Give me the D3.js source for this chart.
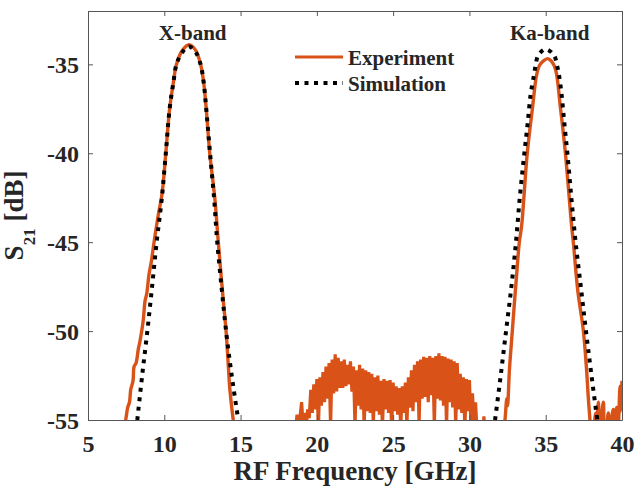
<!DOCTYPE html>
<html>
<head>
<meta charset="utf-8">
<script src="https://cdn.jsdelivr.net/npm/d3@7"></script>
<style>
  body { margin: 0; background: #fff; }
  svg { display: block; }
  text { font-family: "Liberation Serif", "Times New Roman", serif; font-weight: bold; fill: #262626; }
</style>
</head>
<body>
<svg id="chart" width="641" height="490"></svg>
<script>
// ---- Data: S21 transmission [dB] versus RF frequency [GHz] ----
const xTicks = [5, 10, 15, 20, 25, 30, 35, 40];
const yTicks = [-55, -50, -45, -40, -35];
const bandLabels = ["X-band", "Ka-band"];
const bandLabelPos = [[11.6, -33.0], [35.0, -33.0]];
const seriesNames = ["Experiment", "Simulation"];

// Measured response, X-band passband
const expXband = [
  [7.2,-56],[7.47,-55],[7.6,-54.3],[7.72,-54.0],[7.8,-53.3],[7.95,-52.8],[8.02,-52.0],
  [8.15,-51.8],[8.3,-51.0],[8.4,-50.6],[8.52,-50.0],[8.62,-49.4],[8.74,-48.3],[8.85,-47.9],
  [9.0,-46.8],[9.15,-46.1],[9.33,-45],[9.6,-43.5],[9.85,-42.3],[10.1,-40],[10.35,-37.5],
  [10.6,-36],[10.8,-35],[11.2,-34.2],[11.62,-33.9],[12.05,-34.2],[12.38,-35],[12.58,-36],
  [12.75,-37.5],[12.98,-40],[13.32,-42.6],[13.54,-45],[13.87,-48.3],[14.05,-50],
  [14.2,-52],[14.3,-53.3],[14.52,-55],[14.7,-56]
];

// Measured response, out-of-band leakage between the two passbands
const expMid = [
  [18.6,-55.6],[18.7,-54.7],[18.8,-55.4],[18.9,-54.8],[19.0,-54.0],[19.1,-55.3],[19.2,-54.6],
  [19.3,-55.5],[19.4,-54.4],[19.5,-54.9],[19.6,-53.3],[19.7,-54.6],[19.8,-53.0],[19.9,-54.4],
  [20.0,-52.7],[20.1,-55.5],[20.2,-52.6],[20.3,-54.2],[20.4,-52.3],[20.5,-54.0],[20.6,-52.0],
  [20.7,-53.8],[20.8,-51.8],[20.9,-55.4],[21.0,-51.6],[21.1,-53.5],[21.2,-51.3],[21.3,-53.4],
  [21.4,-51.5],[21.5,-53.2],[21.6,-51.7],[21.7,-53.2],[21.8,-51.6],[21.9,-53.1],[22.0,-51.9],
  [22.1,-53.0],[22.2,-51.7],[22.3,-53.4],[22.4,-52.0],[22.5,-55.4],[22.6,-52.2],[22.7,-54.2],
  [22.8,-51.9],[22.9,-54.4],[23.0,-52.1],[23.1,-55.5],[23.2,-52.2],[23.3,-54.5],[23.4,-52.3],
  [23.5,-54.6],[23.6,-52.4],[23.7,-55.3],[23.8,-52.6],[23.9,-54.5],[24.0,-52.5],[24.1,-54.7],
  [24.2,-52.8],[24.3,-55.5],[24.4,-52.7],[24.5,-54.4],[24.6,-52.8],[24.7,-54.6],[24.8,-52.75],
  [24.9,-55.5],[25.0,-52.9],[25.1,-54.5],[25.2,-53.1],[25.3,-54.7],[25.4,-53.2],[25.5,-55.5],
  [25.6,-53.1],[25.7,-54.6],[25.8,-52.9],[25.9,-55.4],[26.0,-52.6],[26.1,-54.3],[26.2,-52.2],
  [26.3,-54.5],[26.4,-51.9],[26.5,-54.0],[26.6,-51.7],[26.7,-55.3],[26.8,-51.6],[26.9,-53.8],
  [27.0,-51.45],[27.1,-53.7],[27.2,-51.5],[27.3,-54.0],[27.4,-51.4],[27.5,-53.6],[27.6,-51.5],
  [27.7,-55.4],[27.8,-51.4],[27.9,-53.8],[28.0,-51.25],[28.1,-53.9],[28.2,-51.4],[28.3,-54.2],
  [28.4,-51.45],[28.5,-55.5],[28.6,-51.55],[28.7,-54.0],[28.8,-51.6],[28.9,-54.3],[29.0,-51.7],
  [29.1,-55.4],[29.2,-51.8],[29.3,-54.4],[29.4,-52.4],[29.5,-54.6],[29.6,-52.6],[29.7,-55.5],
  [29.8,-52.7],[29.9,-54.5],[30.0,-52.75],[30.1,-55.3],[30.2,-53.5],[30.3,-55.2],[30.4,-54.0],
  [30.5,-55.6],[30.9,-55.5],[30.95,-54.8],[31.0,-55.5]
];

// Measured response, Ka-band passband and upper tail
const expKaband = [
  [32.2,-56],[32.33,-55],[32.45,-53.8],[32.5,-54.2],[32.62,-52.2],[32.81,-50],[32.95,-48.4],
  [33.08,-47.0],[33.27,-45],[33.42,-44.1],[33.79,-40],[34.14,-37.4],[34.4,-35.6],[34.6,-35.05],
  [34.85,-34.8],[35.13,-34.68],[35.4,-34.85],[35.65,-35.3],[35.96,-37.4],[36.29,-40],
  [36.7,-44.1],[36.81,-45],[37.1,-47.7],[37.47,-50],[37.68,-52.2],[37.78,-53.6],[37.9,-55],
  [38.0,-56],[38.15,-55.3],[38.3,-54.6],[38.35,-55.5],[38.45,-54.0],[38.55,-55.5],[38.78,-54.0],
  [38.85,-55.5],[39.0,-55.2],[39.1,-54.6],[39.2,-55.5],[39.43,-54.4],[39.5,-55.5],[39.65,-54.3],
  [39.75,-55.3],[39.87,-53.1],[39.93,-54.5],[40.0,-52.8]
];

// Simulated response, both passbands
const simXband = [
  [8.23,-55],[8.55,-52.5],[8.89,-50],[9.2,-47.5],[9.5,-45],[9.83,-42.6],[10.1,-40],
  [10.35,-37.5],[10.6,-36],[10.8,-35],[11.2,-34.3],[11.62,-34.0],[12.05,-34.3],[12.38,-35],
  [12.58,-36],[12.75,-37.5],[13.0,-40],[13.27,-42.6],[13.47,-45],[13.75,-47.5],[14.05,-50],
  [14.42,-52.5],[14.85,-55]
];
const simKaband = [
  [31.68,-55],[32.05,-52.5],[32.4,-50],[32.75,-47.5],[33.05,-45],[33.3,-42.5],[33.6,-40],
  [33.82,-38.3],[34.01,-36.7],[34.23,-35.6],[34.34,-35.05],[34.52,-34.48],[35.0,-34.15],
  [35.54,-34.48],[35.74,-35.05],[35.87,-35.6],[36.04,-36.7],[36.22,-38.3],[36.42,-40],
  [36.68,-42.5],[36.96,-45],[37.3,-47.5],[37.64,-50],[38.0,-52.5],[38.38,-55]
];

// ---- Layout ----
const svg = d3.select("#chart");
const padL = 88, padR = 622, padT = 11, padB = 420;
const expColor = "#D95319";

const x = d3.scaleLinear().domain([5, 40]).range([padL, padR]);
const y = d3.scaleLinear().domain([-55, -32]).range([padB, padT]);

svg.append("defs").append("clipPath").attr("id", "plotArea")
  .append("rect").attr("x", padL).attr("y", padT)
  .attr("width", padR - padL).attr("height", padB - padT);

// ---- Curves ----
const plot = svg.append("g").attr("clip-path", "url(#plotArea)");
const rawLine = d3.line().x(d => x(d[0])).y(d => y(d[1]));
const smoothLine = d3.line().x(d => x(d[0])).y(d => y(d[1])).curve(d3.curveCatmullRom.alpha(0.5));

[expXband, expKaband].forEach(seg => {
  plot.append("path").attr("d", smoothLine(seg))
    .attr("fill", "none").attr("stroke", expColor)
    .attr("stroke-width", 3.4).attr("stroke-linejoin", "round");
});
plot.append("path").attr("d", rawLine(expMid))
  .attr("fill", "none").attr("stroke", expColor)
  .attr("stroke-width", 3.2).attr("stroke-linejoin", "bevel");

[simXband, simKaband].forEach(seg => {
  plot.append("path").attr("d", smoothLine(seg))
    .attr("fill", "none").attr("stroke", "#000")
    .attr("stroke-width", 4).attr("stroke-dasharray", "4,5.5");
});

// ---- Axes (box with inward ticks on all sides) ----
const axisColor = "#555";
const plainNum = d => String(d);
function styleAxis(g) {
  g.selectAll(".domain").attr("stroke", axisColor).attr("stroke-width", 1);
  g.selectAll(".tick line").attr("stroke", axisColor).attr("stroke-width", 1);
}
const gx = svg.append("g").attr("transform", `translate(0,${padB})`)
  .call(d3.axisBottom(x).tickValues(xTicks).tickSizeInner(-5).tickSizeOuter(0).tickFormat(plainNum));
gx.call(styleAxis);
gx.selectAll(".tick text").attr("y", 32).attr("dy", null)
  .style("font-size", "24px").attr("fill", "#262626");

const gxt = svg.append("g").attr("transform", `translate(0,${padT})`)
  .call(d3.axisTop(x).tickValues(xTicks).tickSizeInner(-5).tickSizeOuter(0).tickFormat(""));
gxt.call(styleAxis);

const gy = svg.append("g").attr("transform", `translate(${padL},0)`)
  .call(d3.axisLeft(y).tickValues(yTicks).tickSizeInner(-5).tickSizeOuter(0).tickFormat(plainNum));
gy.call(styleAxis);
gy.selectAll(".tick text").attr("x", -9).attr("dy", "0.36em")
  .style("font-size", "24px").attr("fill", "#262626");

const gyr = svg.append("g").attr("transform", `translate(${padR},0)`)
  .call(d3.axisRight(y).tickValues(yTicks).tickSizeInner(-5).tickSizeOuter(0).tickFormat(""));
gyr.call(styleAxis);

// ---- Axis titles ----
svg.append("text").attr("x", (padL + padR) / 2).attr("y", 480)
  .attr("text-anchor", "middle").style("font-size", "27px")
  .text("RF Frequency [GHz]");

const yTitle = svg.append("text")
  .attr("transform", `translate(23,${(padT + padB) / 2}) rotate(-90)`)
  .attr("text-anchor", "middle").style("font-size", "27px");
yTitle.append("tspan").text("S");
yTitle.append("tspan").attr("dy", 12).style("font-size", "17px").text("21");
yTitle.append("tspan").attr("dy", -12).text(" [dB]");

// ---- Band annotations ----
bandLabels.forEach((t, i) => {
  svg.append("text").attr("x", x(bandLabelPos[i][0]) + 4).attr("y", 40)
    .attr("text-anchor", "middle").style("font-size", "21px").text(t);
});

// ---- Legend ----
const lg = svg.append("g");
const lgX0 = 295, lgX1 = 343, lgRows = [57, 83];
lg.append("line").attr("x1", lgX0).attr("x2", lgX1).attr("y1", lgRows[0]).attr("y2", lgRows[0])
  .attr("stroke", expColor).attr("stroke-width", 3);
lg.append("line").attr("x1", lgX0).attr("x2", lgX1).attr("y1", lgRows[1]).attr("y2", lgRows[1])
  .attr("stroke", "#000").attr("stroke-width", 4).attr("stroke-dasharray", "4,5.5");
seriesNames.forEach((n, i) => {
  lg.append("text").attr("x", 348).attr("y", lgRows[i] + 8)
    .style("font-size", "21px").text(n);
});
</script>
</body>
</html>
